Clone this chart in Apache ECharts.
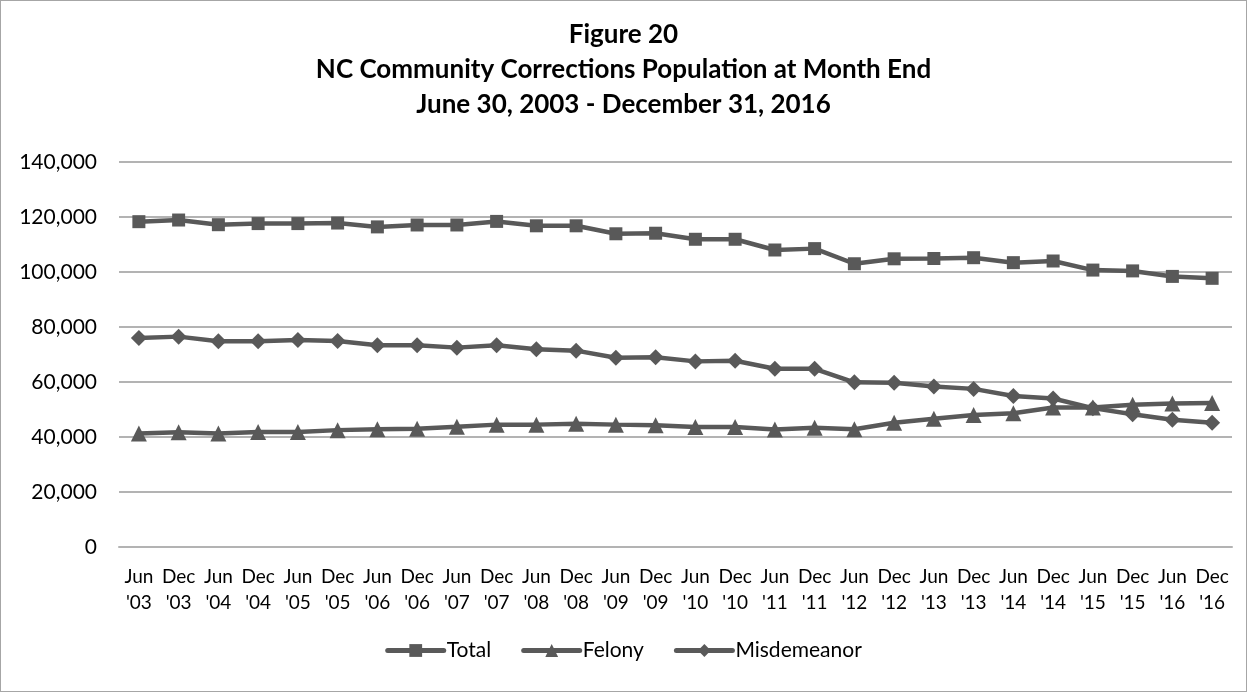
<!DOCTYPE html>
<html>
<head>
<meta charset="utf-8">
<script src="https://cdn.jsdelivr.net/npm/echarts@6/dist/echarts.min.js"></script>
<style>
  html, body { margin: 0; padding: 0; background: #fff; }
  #chart { width: 1247px; height: 692px; box-sizing: border-box; border: 1px solid #a6a6a6; }
</style>
</head>
<body>
<div id="chart"></div>
<script>
// period ends, June 2003 - December 2016
const categories = [
  "Jun '03", "Dec '03", "Jun '04", "Dec '04", "Jun '05", "Dec '05", "Jun '06", "Dec '06",
  "Jun '07", "Dec '07", "Jun '08", "Dec '08", "Jun '09", "Dec '09", "Jun '10", "Dec '10",
  "Jun '11", "Dec '11", "Jun '12", "Dec '12", "Jun '13", "Dec '13", "Jun '14", "Dec '14",
  "Jun '15", "Dec '15", "Jun '16", "Dec '16"
];

const total = [
  118300, 118900, 117200, 117600, 117600, 117800, 116400, 117100,
  117100, 118400, 116800, 116800, 113900, 114100, 111900, 111900,
  108000, 108500, 103000, 104800, 104900, 105200, 103400, 104000,
  100700, 100400, 98400, 97700
];

const felony = [
  41300, 41700, 41300, 41800, 41800, 42500, 42800, 43000,
  43700, 44500, 44500, 44800, 44500, 44300, 43600, 43600,
  42700, 43400, 42800, 45200, 46600, 48000, 48600, 50700,
  50700, 51700, 52200, 52400
];

const misdemeanor = [
  76000, 76500, 74800, 74800, 75300, 74900, 73400, 73400,
  72500, 73400, 71900, 71400, 68800, 69000, 67500, 67700,
  64800, 64800, 59900, 59700, 58400, 57500, 54900, 54000,
  50500, 48300, 46300, 45200
];

const FONT = 'Lato, "Open Sans", sans-serif';
const LINE = '#595959';

const chart = echarts.init(document.getElementById('chart'));

function lineSeries(name, data, symbol, size) {
  return {
    name: name,
    type: 'line',
    data: data,
    symbol: symbol,
    symbolSize: size,
    showAllSymbol: true,
    lineStyle: { color: LINE, width: 4.5 },
    itemStyle: { color: LINE },
    emphasis: { disabled: true }
  };
}

chart.setOption({
  animation: false,
  backgroundColor: '#fff',
  title: {
    text: 'Figure 20\nNC Community Corrections Population at Month End\nJune 30, 2003 - December 31, 2016',
    left: 'center',
    top: 11,
    textStyle: {
      fontFamily: FONT,
      fontSize: 26,
      fontWeight: 'bold',
      lineHeight: 35,
      color: '#000'
    }
  },
  legend: {
    bottom: 25,
    left: 'center',
    itemWidth: 56,
    itemHeight: 16,
    itemGap: 30,
    lineStyle: { width: 5, cap: 'round' },
    itemStyle: { borderWidth: 0 },
    textStyle: { fontFamily: FONT, fontSize: 21, color: '#000', padding: [0, 0, 0, -2] },
    data: ['Total', 'Felony', 'Misdemeanor']
  },
  grid: { left: 118, right: 14, top: 161, bottom: 144 },
  xAxis: {
    type: 'category',
    data: categories,
    boundaryGap: true,
    axisLine: { lineStyle: { color: '#b3b3b3', width: 2 } },
    axisTick: { show: false },
    axisLabel: {
      interval: 0,
      margin: 17,
      fontFamily: FONT,
      fontSize: 19,
      lineHeight: 26,
      color: '#000',
      formatter: v => v.replace(' ', '\n')
    }
  },
  yAxis: {
    type: 'value',
    min: 0,
    max: 140000,
    interval: 20000,
    axisLine: { show: false },
    axisTick: { show: false },
    splitLine: { lineStyle: { color: '#b3b3b3', width: 2 } },
    axisLabel: {
      margin: 22,
      fontFamily: FONT,
      fontSize: 21,
      color: '#000',
      formatter: v => v.toLocaleString('en-US')
    }
  },
  series: [
    lineSeries('Total', total, 'rect', 13),
    lineSeries('Felony', felony, 'triangle', 16),
    lineSeries('Misdemeanor', misdemeanor, 'diamond', 16)
  ]
});

window.addEventListener('resize', () => chart.resize());
</script>
</body>
</html>
